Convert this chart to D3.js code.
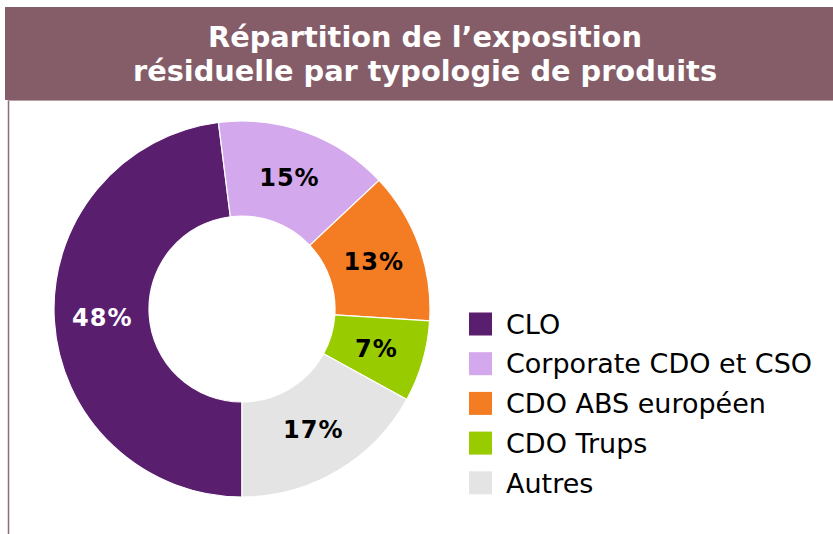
<!DOCTYPE html>
<html>
<head>
<meta charset="utf-8">
<script src="https://cdn.jsdelivr.net/npm/d3@7"></script>
<style>
  html, body { margin: 0; padding: 0; background: #fff; }
  svg { display: block; }
</style>
</head>
<body>
<svg id="chart" width="833" height="534"></svg>
<script>
const titleLines = ["Répartition de l’exposition", "résiduelle par typologie de produits"];
const categories = ["CLO", "Corporate CDO et CSO", "CDO ABS européen", "CDO Trups", "Autres"];
const values = [48, 15, 13, 7, 17];
const colours = ["#5a1e6f", "#d3a8ec", "#f47c22", "#99cc00", "#e3e4e3"];
const labelColours = ["#fff", "#000", "#000", "#000", "#000"];

const svg = d3.select('#chart');

// frame : bandeau titre + filet gauche
svg.append('rect')
    .attr('x', 5).attr('y', 7)
    .attr('width', 828).attr('height', 93)
    .attr('fill', '#845d69');
svg.append('line')
    .attr('x1', 8.5).attr('x2', 8.5)
    .attr('y1', 100).attr('y2', 534)
    .attr('stroke', '#8e6b76')
    .attr('stroke-width', 1.5);
svg.append('line')
    .attr('x1', 8).attr('x2', 833)
    .attr('y1', 100.5).attr('y2', 100.5)
    .attr('stroke', '#b7a0a7')
    .attr('stroke-width', 1);

// titre : police un peu plus petite, etiree a la largeur voulue
const titleSize = 29, titleWidthScale = 32 / 29;
svg.selectAll('.title')
    .data(titleLines)
    .enter()
    .append('text')
        .classed('title', true)
        .attr('x', 425)
        .attr('y', (d, i) => 47 + i * 34)
        .attr('text-anchor', 'middle')
        .attr('fill', '#fff')
        .style('font-family', '"DejaVu Sans Condensed", "DejaVu Sans", sans-serif')
        .style('font-weight', 'bold')
        .style('font-size', titleSize + 'px')
        .text(d => d)
        .each(function() {
            const w = this.getComputedTextLength();
            d3.select(this)
                .attr('textLength', w * titleWidthScale)
                .attr('lengthAdjust', 'spacingAndGlyphs');
        });

// donut
const cx = 242, cy = 309;
const outerR = 188, innerR = 93;

const pieGen = d3.pie()
    .value(d => d.value)
    .sort(null)
    .startAngle(Math.PI)
    .endAngle(3 * Math.PI);

const data = categories.map((c, i) => ({name: c, value: values[i], colour: colours[i], label: labelColours[i]}));
const arcsArr = pieGen(data);

const pathGen = d3.arc()
    .outerRadius(outerR)
    .innerRadius(innerR);
const labelArc = d3.arc()
    .outerRadius(140)
    .innerRadius(140);

const pie = svg.append('g')
    .attr('transform', `translate(${cx},${cy})`);

pie.selectAll('.arc')
    .data(arcsArr)
    .enter()
    .append('path')
        .classed('arc', true)
        .attr('d', pathGen)
        .attr('fill', d => d.data.colour)
        .style('stroke', 'white')
        .style('stroke-width', 1.2);

pie.selectAll('.pct')
    .data(arcsArr)
    .enter()
    .append('text')
        .classed('pct', true)
        .attr('transform', d => `translate(${labelArc.centroid(d)})`)
        .attr('text-anchor', 'middle')
        .attr('dy', '0.36em')
        .attr('fill', d => d.data.label)
        .style('font-family', '"DejaVu Sans", Verdana, sans-serif')
        .style('font-weight', 'bold')
        .style('font-size', '24px')
        .style('letter-spacing', '1px')
        .text(d => d.data.value + '%');

// legende
const legend = svg.append('g')
    .attr('transform', 'translate(469,324)');

legend.selectAll('.legend__rect')
    .data(data)
    .enter()
    .append('rect')
        .classed('legend__rect', true)
        .attr('x', 0)
        .attr('y', (d, i) => i * 39.7 - 11.5)
        .attr('width', 23)
        .attr('height', 23)
        .attr('fill', d => d.colour);

legend.selectAll('.legend__text')
    .data(data)
    .enter()
    .append('text')
        .classed('legend__text', true)
        .attr('x', 37)
        .attr('y', (d, i) => i * 39.7)
        .attr('dy', '0.36em')
        .attr('fill', '#000')
        .style('font-family', '"DejaVu Sans", Verdana, sans-serif')
        .style('font-size', '27px')
        .text(d => d.name);
</script>
</body>
</html>
